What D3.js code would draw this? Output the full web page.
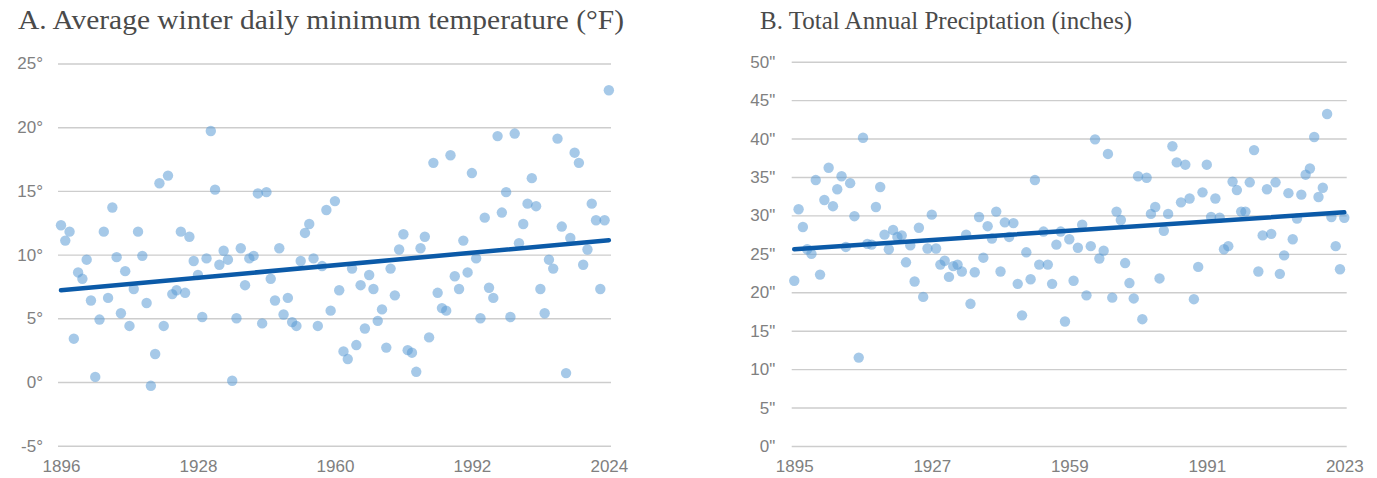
<!DOCTYPE html>
<html>
<head>
<meta charset="utf-8">
<script src="https://cdn.jsdelivr.net/npm/d3@7/dist/d3.min.js"></script>
<style>
  html, body { margin: 0; padding: 0; background: #fff; }
  svg { display: block; }
  .tick text { font-family: "Liberation Sans", Arial, sans-serif; font-size: 17px; fill: #808080; }
  .title { font-family: "Liberation Serif", "Times New Roman", serif; fill: #4a4a4a; }
</style>
</head>
<body>
<svg id="chart" width="1377" height="478"></svg>
<script>
// ---------- DATA ----------
const tempStartYear = 1896;
const tempValues = [
  12.3, 11.1, 11.8, 3.4, 8.6, 8.1, 9.6, 6.4, 0.4, 4.9,
  11.8, 6.6, 13.7, 9.8, 5.4, 8.7, 4.4, 7.3, 11.8, 9.9,
  6.2, -0.3, 2.2, 15.6, 4.4, 16.2, 6.9, 7.2, 11.8, 7.0,
  11.4, 9.5, 8.4, 5.1, 9.7, 19.7, 15.1, 9.2, 10.3, 9.6,
  0.1, 5.0, 10.5, 7.6, 9.7, 9.9, 14.8, 4.6, 14.9, 8.1,
  6.4, 10.5, 5.3, 6.6, 4.7, 4.4, 9.5, 11.7, 12.4, 9.7,
  4.4, 9.1, 13.5, 5.6, 14.2, 7.2, 2.4, 1.8, 8.9, 2.9,
  7.6, 4.2, 8.4, 7.3, 4.8, 5.7, 2.7, 8.9, 6.8, 10.4,
  11.6, 2.5, 2.3, 0.8, 10.5, 11.4, 3.5, 17.2, 7.0, 5.8,
  5.6, 17.8, 8.3, 7.3, 11.1, 8.6, 16.4, 9.7, 5.0, 12.9,
  7.4, 6.6, 19.3, 13.3, 14.9, 5.1, 19.5, 10.9, 12.4, 14.0,
  16.0, 13.8, 7.3, 5.4, 9.6, 8.9, 19.1, 12.2, 0.7, 11.3,
  18.0, 17.2, 9.2, 10.4, 14.0, 12.7, 7.3, 12.7, 22.9
];
const tempTrend = [ {year: 1896, value: 7.2}, {year: 2024, value: 11.13} ];
const tempYTicks = [-5, 0, 5, 10, 15, 20, 25];
const tempXTicks = [1896, 1928, 1960, 1992, 2024];

const precipStartYear = 1895;
const precipValues = [
  21.5, 30.8, 28.5, 25.6, 25.0, 34.6, 22.3, 32.0, 36.2, 31.2,
  33.4, 35.1, 25.9, 34.2, 29.9, 11.5, 40.1, 26.3, 26.2, 31.1,
  33.7, 27.5, 25.6, 28.1, 27.2, 27.4, 23.9, 26.1, 21.4, 28.4,
  19.4, 25.7, 30.1, 25.7, 23.6, 24.1, 22.0, 23.4, 23.6, 22.7,
  27.5, 18.5, 22.6, 29.8, 24.5, 28.6, 27.0, 30.5, 22.7, 29.1,
  27.2, 29.0, 21.1, 17.0, 25.2, 21.7, 34.6, 23.6, 27.9, 23.6,
  21.1, 26.2, 27.9, 16.2, 26.9, 21.5, 25.8, 28.8, 19.6, 26.0,
  39.9, 24.4, 25.4, 38.0, 19.3, 30.5, 29.4, 23.8, 21.2, 19.2,
  35.1, 16.5, 34.9, 30.2, 31.1, 21.8, 28.0, 30.2, 39.0, 36.9,
  31.7, 36.6, 32.2, 19.1, 23.3, 33.0, 36.6, 29.8, 32.2, 29.7,
  25.6, 26.0, 34.4, 33.3, 30.5, 30.5, 34.3, 38.5, 22.7, 27.4,
  33.4, 27.6, 34.3, 22.4, 24.8, 32.9, 26.9, 29.6, 32.7, 35.3,
  36.1, 40.2, 32.4, 33.6, 43.2, 29.8, 26.0, 23.0, 29.7
];
const precipTrend = [ {year: 1895, value: 25.6}, {year: 2023, value: 30.4} ];
const precipYTicks = [0, 5, 10, 15, 20, 25, 30, 35, 40, 45, 50];
const precipXTicks = [1895, 1927, 1959, 1991, 2023];

const titleA = "A. Average winter daily minimum temperature (°F)";
const titleB = "B. Total Annual Preciptation (inches)";

// ---------- DRAW ----------
const svg = d3.select("#chart");

function panel(cfg) {
  const g = svg.append("g");
  const x = d3.scaleLinear().domain(cfg.xDomain).range(cfg.xRange);
  const y = d3.scaleLinear().domain(cfg.yDomain).range(cfg.yRange);
  const w = cfg.xRange[1] - cfg.xRange[0];

  // gridlines
  g.append("g")
    .attr("transform", `translate(${cfg.xRange[0]},0)`)
    .call(d3.axisLeft(y).tickValues(cfg.yTicks).tickSize(-w).tickFormat(""))
    .call(s => s.select(".domain").remove())
    .call(s => s.selectAll("line").attr("stroke", "#cdcdcd").attr("stroke-width", 1.4));

  // y labels
  g.append("g")
    .attr("transform", `translate(${cfg.xRange[0]},0)`)
    .call(d3.axisLeft(y).tickValues(cfg.yTicks).tickSize(0).tickPadding(cfg.yPad).tickFormat(cfg.yFmt))
    .call(s => s.select(".domain").remove());

  // x labels
  g.append("g")
    .attr("transform", `translate(0,${cfg.yRange[0]})`)
    .call(d3.axisBottom(x).tickValues(cfg.xTicks).tickSize(0).tickPadding(14).tickFormat(d3.format("d")))
    .call(s => s.select(".domain").remove());

  // points
  const data = cfg.values.map((v, i) => ({year: cfg.start + i, value: v}));
  g.append("g").selectAll("circle").data(data).join("circle")
    .attr("cx", d => x(d.year))
    .attr("cy", d => y(d.value))
    .attr("r", 5.2)
    .attr("fill", "#5B9BD5")
    .attr("fill-opacity", 0.54);

  // trend line
  g.append("path")
    .datum(cfg.trend)
    .attr("d", d3.line().x(d => x(d.year)).y(d => y(d.value)))
    .attr("fill", "none")
    .attr("stroke", "#0B5AA8")
    .attr("stroke-width", 4.5)
    .attr("stroke-linecap", "round");

  // title
  const t = g.append("text").attr("class", "title")
    .attr("x", cfg.titleX).attr("y", 29)
    .style("font-size", cfg.titleSize + "px")
    .text(cfg.title);
  if (cfg.titleW) t.attr("textLength", cfg.titleW).attr("lengthAdjust", "spacingAndGlyphs");
}

panel({
  xDomain: [1895.3, 2024.5], xRange: [58, 611],
  yDomain: [-5, 25], yRange: [445.7, 63.5],
  yTicks: tempYTicks, xTicks: tempXTicks, yPad: 15,
  yFmt: d => d + "°",
  values: tempValues, start: tempStartYear, trend: tempTrend,
  title: titleA, titleX: 18, titleSize: 28, titleW: 606
});

panel({
  xDomain: [1894.4, 2023.56], xRange: [791.7, 1346.7],
  yDomain: [0, 50], yRange: [446, 61.7],
  yTicks: precipYTicks, xTicks: precipXTicks, yPad: 16.5,
  yFmt: d => d + '"',
  values: precipValues, start: precipStartYear, trend: precipTrend,
  title: titleB, titleX: 760, titleSize: 25
});
</script>
</body>
</html>
